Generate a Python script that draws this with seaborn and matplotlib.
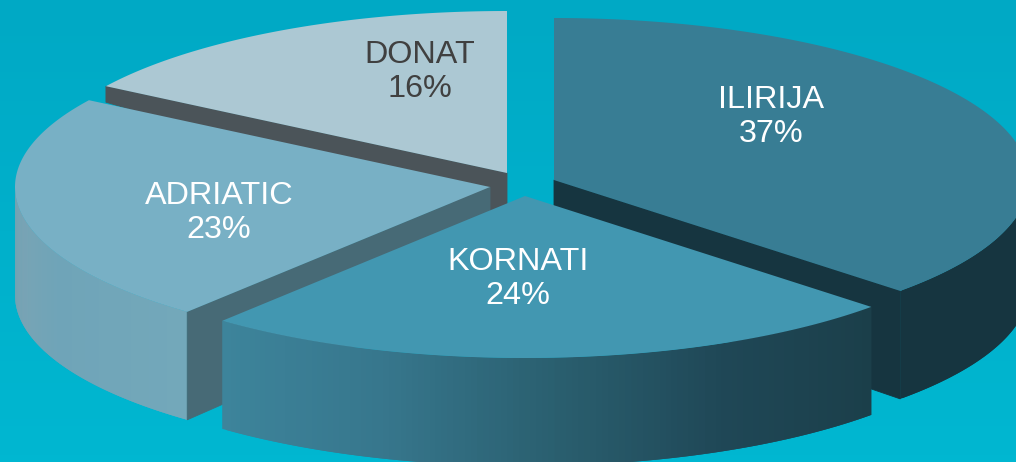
import numpy as np
import matplotlib
matplotlib.use("Agg")
import matplotlib.pyplot as plt
import seaborn as sns

names = ["ILIRIJA", "KORNATI", "ADRIATIC", "DONAT"]
shares = [37, 24, 23, 16]

# slice geometry in pixels, kept apart from the data
centers = {"ILIRIJA": (554, 180), "KORNATI": (525, 196), "ADRIATIC": (490, 187), "DONAT": (507, 173)}
label_pos = {"ILIRIJA": (771, 117), "KORNATI": (518, 279), "ADRIATIC": (219, 213), "DONAT": (420, 72)}
top_colors = {"ILIRIJA": "#387d94", "KORNATI": "#4297b1", "ADRIATIC": "#78b0c5", "DONAT": "#acc8d3"}
side_colors = {"ILIRIJA": "#163540", "KORNATI": "#1b3f4a", "ADRIATIC": "#476a76", "DONAT": "#4b5459"}
text_colors = {"ILIRIJA": "white", "KORNATI": "white", "ADRIATIC": "white", "DONAT": "#404040"}
rim_ramps = {
    "ILIRIJA": ["#163540", "#163540"],
    "KORNATI": ["#3d849b", "#37778d", "#2a5f6f", "#1f4756", "#1b3f4a"],
    "ADRIATIC": ["#7fa3b2", "#6fa4b8", "#73a8ba"],
}
RX, RY, DEPTH = 475, 162, 108

sns.set_theme(style="white")
plt.rcParams["font.family"] = ["Liberation Sans", "DejaVu Sans"]

fig, ax = plt.subplots(figsize=(10.16, 4.62), dpi=100)
fig.subplots_adjust(0, 0, 1, 1)

# background runs slightly lighter towards the bottom
bg = np.array(sns.blend_palette(["#00a9c5", "#00b7d1"], 64))[:, None, :]
ax.imshow(bg, extent=(0, 1016, 462, 0), aspect="auto", zorder=0)

# slice angles come from the shares, clockwise from twelve o'clock
edges = 90 - np.cumsum([0] + shares) * 3.6
angles = {n: (edges[i], edges[i + 1]) for i, n in enumerate(names)}


def rim(name, a, b, n=200):
    t = np.radians(np.linspace(a, b, n))
    cx, cy = centers[name]
    return cx + RX * np.cos(t), cy - RY * np.sin(t)


def draw_cut(name, theta, apex_depth, rim_depth, z):
    # flat wall along the cut edge of a slice
    cx, cy = centers[name]
    x, y = rim(name, theta, theta, 1)
    ax.fill([cx, x[0], x[0], cx], [cy, y[0], y[0] + rim_depth, cy + apex_depth],
            color=side_colors[name], lw=0.6, zorder=z)


def draw_rim(name, a, b, z):
    # curved wall, split in strips to get the gradient across it
    x, y = rim(name, a, b, 121)
    order = np.argsort(x)
    x, y = x[order], y[order]
    pal = sns.blend_palette(rim_ramps[name], len(x) - 1)
    for i, c in enumerate(pal):
        # each strip runs under the next one so no seams show
        j = min(i + 2, len(x) - 1)
        ax.fill([x[i], x[j], x[j], x[i]],
                [y[i], y[j], y[j] + DEPTH, y[i] + DEPTH],
                color=c, lw=0, zorder=z, antialiased=True)


def draw_top(name, z):
    a, b = angles[name]
    cx, cy = centers[name]
    x, y = rim(name, a, b)
    ax.fill(np.r_[cx, x], np.r_[cy, y], color=top_colors[name], lw=0, zorder=z)


# back to front
draw_cut("DONAT", angles["DONAT"][0], 45, 16, 1)
draw_top("DONAT", 2)
draw_rim("ADRIATIC", angles["ADRIATIC"][0], -180, 3)
draw_cut("ADRIATIC", angles["ADRIATIC"][0], 100, DEPTH, 3)
draw_top("ADRIATIC", 4)
draw_rim("ILIRIJA", angles["ILIRIJA"][1], 0, 3)
draw_cut("ILIRIJA", angles["ILIRIJA"][1], 100, DEPTH, 3)
draw_top("ILIRIJA", 4)
draw_rim("KORNATI", angles["KORNATI"][0], angles["KORNATI"][1], 5)
draw_top("KORNATI", 6)

for name, share in zip(names, shares):
    lx, ly = label_pos[name]
    ax.text(lx, ly, f"{name}\n{share}%", color=text_colors[name], fontsize=23.3,
            ha="center", va="center", linespacing=1.18, zorder=7)

ax.set_xlim(0, 1016)
ax.set_ylim(462, 0)
ax.axis("off")

plt.savefig("out.png", dpi=100)
